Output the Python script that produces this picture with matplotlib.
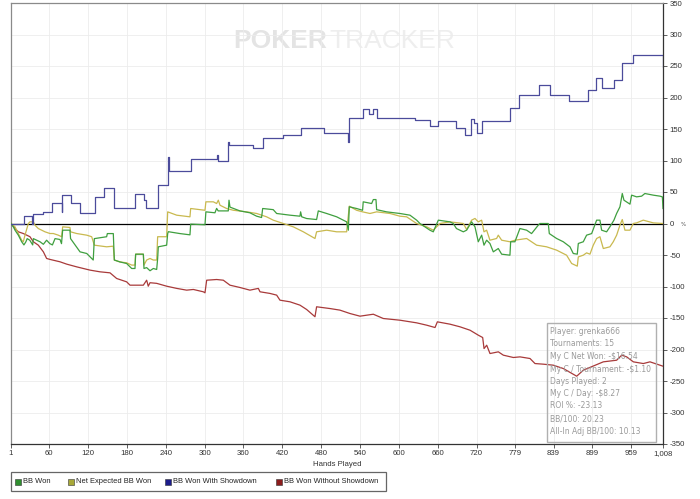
import matplotlib
matplotlib.use('Agg')
import matplotlib.pyplot as plt
from matplotlib.patches import Rectangle

# ---------------- data (hand, BB) ----------------
green_h = [1, 4.6, 7.2, 12.3, 17.5, 21, 24, 26, 30, 34.5, 35.5, 40.6, 45.8, 51, 56, 61, 65, 69, 76.7, 79, 80.8, 92, 93,
           107.6, 118, 128, 129.7, 148.7, 149.8, 159, 160.6, 169.3, 179.6, 187.4, 192.5, 193.5, 205.4, 206.4, 210.5,
           215.7, 220.8, 226, 227.5, 228.5, 241.4, 243, 244, 262, 277.4, 278.5, 300.6, 302, 316, 318.6, 321, 336.6,
           337.7, 339.2, 354.6, 370, 380.4, 388, 389.7, 406, 411.3, 432, 447.3, 448.3, 450, 457.6, 473, 475.6, 488.5,
           504, 519.4, 522, 523.5, 534.8, 544, 545, 558, 560.6, 564.7, 565.7, 581, 601.7, 617.2, 627.5, 632.6, 648,
           653.2, 661, 679, 684, 689, 699.6, 704.7, 712.4, 717.6, 722.7, 727.9, 731.5, 735.6, 740.7, 745.9, 753.6,
           758.8, 771.6, 772.7, 779.3, 787, 797.4, 805, 815.4, 818, 830.8, 832.4, 843.7, 854, 864.3, 869.4, 875.6,
           877.2, 884.9, 890, 897.8, 905.5, 910.6, 913.2, 920.9, 926, 932.2, 936.4, 941.5, 945.1, 947.7, 957, 959.5,
           967.2, 975, 980, 993, 1003.3, 1007, 1008]
green_v = [0, -5.3, -10.6, -18.5, -29, -34, -29, -24, -26.5, -34, -24, -26.5, -29, -33, -26.5, -32, -34, -24, -25.4,
           -32, -10.6, -10.6, -24, -45, -47.6, -58, -24, -21, -16, -16, -58, -61, -63.5, -71.4, -71.4, -48.7, -48.7,
           -71.4, -70, -75, -71.4, -73, -55.5, -37, -34.4, -16, -13, -16, -18, -1, -2, 18.5, 17, 24, 20, 20, 37, 26,
           20, 17, 11.6, 9.5, 23.8, 22, 15.9, 13.2, 11.6, 18.5, 10.6, 7.9, 6.3, 20, 15.9, 10.6, 2.6, -10.6, 26.5, 23.8,
           21, 34.4, 31.7, 38, 38, 22, 18.5, 15.9, 13.2, 5.3, 0, -10.6, -13.2, 5.3, 2.6, 0, -8, -13.2, -10.6, 2.6,
           -5.3, -29, -18.5, -34.4, -26.5, -31.7, -45, -39.7, -48.7, -50.3, -29, -29, -8, -10.6, -16, -2.6, 0, 0, -16,
           -23.8, -29, -37, -47.6, -48.7, -31.7, -29, -18.5, -16, 5.3, 5.3, -10.6, -13.2, -5.3, 5.3, 16, 26.5, 47.6,
           37, 30.7, 45, 42.3, 43.4, 47.6, 45, 43.4, 42.3, 23.8]

yellow_h = [1, 7.2, 12.3, 17.5, 20, 22.6, 27.8, 30.3, 35.5, 38, 43.2, 48.4, 53.5, 61.2, 66.4, 74, 79.2, 80.8, 92, 93,
            102.4, 117.9, 125.6, 129.7, 148.7, 159, 160.6, 169.3, 179.6, 187.4, 192.5, 193.5, 205.4, 206.4, 210.5,
            215.7, 220.8, 226, 227.5, 241.4, 243, 256.9, 277.4, 278.5, 300.6, 302, 313.5, 318.6, 321.2, 323.8, 334,
            344.4, 365, 380.4, 395.8, 406, 421.6, 437, 452.5, 470.5, 473, 488.5, 504, 519.4, 523.5, 534.8, 544, 555.4,
            565.7, 586.3, 601.7, 612, 627.5, 643, 653.2, 663.5, 679, 699.6, 704.7, 712.4, 717.6, 722.7, 727.9, 731.5,
            735.6, 740.7, 751, 753.6, 758.8, 771.6, 779.3, 797.4, 812.8, 828.2, 843.7, 859.1, 866.9, 875.6, 877.2,
            884.9, 890, 895.2, 900.3, 905.5, 910.6, 915.8, 926, 931.2, 936.4, 941.5, 945.1, 949.2, 957, 962.1, 967.2,
            977.5, 993, 1008]
yellow_v = [0, -5.3, -15.9, -26.5, -29, -18.5, 0, 2.6, 2.6, -2.6, -8, -10.6, -13.2, -15.9, -15.9, -18.5, -21, -5.3,
            -6.3, -13.2, -15.9, -18.5, -21, -34.4, -37, -36, -58, -61, -62.4, -66, -66, -48.7, -48.7, -66, -58, -55.5,
            -58, -58, -21, -21, 18.5, 13.2, 10.6, 23.8, 21, 34.4, 34.4, 31.7, 37, 29, 23.8, 21, 18.5, 15.9, 10.6, 5.3,
            0, -5.3, -13.2, -23.8, -13.2, -10.6, -13.2, -13.2, 27.5, 21, 18.5, 15.9, 18.5, 15.9, 11.6, 10.6, 0, -5.3,
            -10.6, 0, 2.6, 0, -9.5, 5.3, 8, 2.6, 5.3, -13.2, -10.6, -26.5, -23.8, -18.5, -26.5, -29, -26.5, -23.8,
            -34.4, -37, -42.3, -50.3, -63.5, -67.7, -53, -50.3, -46.6, -48.7, -34.4, -23.8, -21, -39.7, -37, -29,
            -18.5, -2.6, 6.3, -10.6, -10.6, 0, 1, 5.3, 1, 0]

blue_h = [1, 21, 33, 35.5, 50, 65, 79, 80.5, 93, 107.6, 130.7, 144.6, 160.6, 192.5, 206.4, 209, 228, 244, 245, 278.5,
          318.7, 320, 336, 337, 375, 390.7, 420.6, 448.4, 484.4, 522, 523, 545, 554.5, 559.6, 565.8, 625, 648, 661,
          688, 702, 712, 716, 720, 728, 772, 785, 817, 833.5, 863, 892.7, 904.5, 913.3, 932.3, 944.2, 961.2, 1007,
          1008]
blue_v = [0, 11.6, 0, 14.8, 17.5, 32.8, 17.5, 45.5, 32.8, 15.9, 42.3, 57, 24.3, 47.6, 37, 24.3, 60.8, 105, 83.6,
          101.6, 109, 99.5, 130, 124, 119.6, 136.5, 140.7, 150.8, 143.9, 129.6, 168, 181.5, 174.6, 181.5, 168, 164,
          154.5, 162.4, 150.8, 141, 166.6, 160, 143, 162.4, 183.6, 203.7, 220.6, 204.7, 194, 211.6, 231.7, 215.8,
          228.5, 255.5, 268, 268, 248.6]

red_h = [1, 7.2, 12.3, 20, 30.3, 35.5, 43.2, 51, 56, 61.2, 76.7, 87, 102.4, 123, 138.5, 153.9, 164.2, 179.6, 184.8,
         205.4, 210.5, 213, 215.7, 226, 241.4, 256.9, 272.3, 282.6, 298, 300.6, 303.2, 318.6, 328.9, 339.2, 354.7,
         370, 383, 385.6, 401, 411.3, 416.4, 431.9, 447.3, 457.6, 470.5, 473, 493.7, 509, 524.6, 540, 560.6, 576,
         601.8, 627.6, 643, 655.9, 659.5, 679, 694.5, 710, 722.8, 729.5, 731.6, 735.7, 740.8, 753.7, 761.4, 776.9,
         787.1, 802.6, 810.3, 823.2, 838.6, 854, 874.7, 885, 915.8, 936.4, 944.2, 951.9, 962.2, 977.6, 987.9, 1008]
red_v = [0, -8, -13.2, -15.9, -21, -29, -34.4, -45, -55.5, -57, -60.8, -64.5, -68.8, -74, -76.7, -78.3, -87.3, -92.6,
         -97.9, -97.9, -90, -99.5, -94, -95, -99.5, -103, -105.8, -104.7, -108.4, -110, -90, -88.9, -90, -97.9,
         -101.6, -105.8, -103, -108.4, -111, -113.7, -121.7, -124.3, -129.6, -136.5, -148, -132.2, -135, -137.5,
         -142.9, -147.1, -144, -150.8, -153.5, -157.7, -161.4, -165.1, -156.1, -159.8, -164, -169.4, -177.3, -181,
         -198.5, -193.2, -206.4, -203.7, -209, -212.7, -211.7, -214.3, -222.3, -223.3, -224.9, -230.2, -242.4,
         -232.8, -219.6, -217, -209, -211.7, -219.6, -222.3, -219.6, -226.5]

x_ticks = [1, 60, 120, 180, 240, 300, 360, 420, 480, 540, 600, 660, 720, 779, 839, 899, 959, 1008]
x_labels = ['1', '60', '120', '180', '240', '300', '360', '420', '480', '540', '600', '660', '720', '779', '839',
            '899', '959', '1,008']
y_ticks = list(range(-350, 351, 50))
series_names = ['BB Won', 'Net Expected BB Won', 'BB Won With Showdown', 'BB Won Without Showdown']
line_colors = ['#3f9f3f', '#c9b94f', '#4b4b9b', '#a83a3a']
legend_colors = ['#2f8f2f', '#a8a838', '#1c1c8c', '#8c1c1c']
stats = ['Player: grenka666', 'Tournaments: 15', 'My C Net Won: -$16.54', 'My C / Tournament: -$1.10',
         'Days Played: 2', 'My C / Day: -$8.27', 'ROI %: -23.13', 'BB/100: 20.23', 'All-In Adj BB/100: 10.13']

# ---------------- figure ----------------
W, H = 700, 499
fig = plt.figure(figsize=(7, 4.99), dpi=100)
fig.patch.set_facecolor('white')

def fx(px):
    return px / W

def fy(py):
    return 1 - py / H

ax = fig.add_axes([fx(11), fy(444), (663 - 11) / W, (444 - 3) / H])
ax.set_xlim(1, 1008)
ax.set_ylim(-350, 350)

ax.set_xticks(x_ticks)
ax.set_xticklabels(x_labels, fontsize=5.6, color='#333333', family='Liberation Sans')
ax.set_yticks(y_ticks)
ax.set_yticklabels([str(v) for v in y_ticks], fontsize=5.6, color='#333333', family='Liberation Sans')
ax.yaxis.tick_right()
ax.tick_params(axis='x', direction='out', length=3, pad=1.5, width=0.6, color='#444444')
ax.tick_params(axis='y', direction='out', length=3, pad=1.5, width=0.6, color='#444444')
ax.grid(True, color='#ececec', lw=0.6)
ax.set_axisbelow(True)
for s in ['left', 'top']:
    ax.spines[s].set_color('#8a8a8a')
    ax.spines[s].set_linewidth(0.9)
for s in ['bottom', 'right']:
    ax.spines[s].set_color('#333333')
    ax.spines[s].set_linewidth(0.9)

# watermark
ax.text(fx(233), fy(48), 'POKER', transform=fig.transFigure, fontsize=19, fontweight='bold',
        color='#e4e4e4', family='Liberation Sans', va='baseline', ha='left', zorder=0.5)
ax.text(fx(329), fy(48), 'TRACKER', transform=fig.transFigure, fontsize=19,
        color='#eeeeee', family='Liberation Sans', va='baseline', ha='left', zorder=0.5)

ax.axhline(0, color='black', lw=0.9, zorder=2)

ax.plot(red_h, red_v, color=line_colors[3], lw=0.9, zorder=3)
ax.plot(yellow_h, yellow_v, color=line_colors[1], lw=0.9, zorder=4)
ax.plot(green_h, green_v, color=line_colors[0], lw=0.9, zorder=5)
ax.plot(blue_h, blue_v, color=line_colors[2], lw=0.9, drawstyle='steps-post', zorder=6)

# right axis tiny label
fig.text(fx(683), fy(225), '%', fontsize=4, color='#555555', ha='center', va='center')

# x label
fig.text(fx(337), fy(464), 'Hands Played', fontsize=5.6, color='#333333', family='Liberation Sans',
         ha='center', va='center')

# stats box
fig.add_artist(Rectangle((fx(546.7), fy(441.7)), (656 - 546.7) / W, (441.7 - 323.3) / H,
                         transform=fig.transFigure, fill=False, edgecolor='#b0b0b0', lw=1.0, zorder=10))
line_y = [331.7, 344, 356.7, 369, 381.3, 394, 406, 418.7, 431.3]
for t, yy in zip(stats, line_y):
    fig.text(fx(550), fy(yy), t, fontsize=5.5, color='#9a9a9a', ha='left', va='center', zorder=11)

# legend
fig.add_artist(Rectangle((fx(11), fy(491)), (386 - 11) / W, (491 - 472) / H,
                         transform=fig.transFigure, fill=False, edgecolor='#666666', lw=0.9))
sq_x = [15, 68, 165, 276]
tx_x = [23, 76, 173, 284]
for name, c, sx, tx in zip(series_names, legend_colors, sq_x, tx_x):
    fig.add_artist(Rectangle((fx(sx), fy(484.5)), 6 / W, 6 / H, transform=fig.transFigure,
                             facecolor=c, edgecolor='#333333', lw=0.4))
    fig.text(fx(tx), fy(481.5), name, fontsize=5.4, color='#222222', family='Liberation Sans',
             ha='left', va='center')

fig.savefig('out.png', dpi=100)
